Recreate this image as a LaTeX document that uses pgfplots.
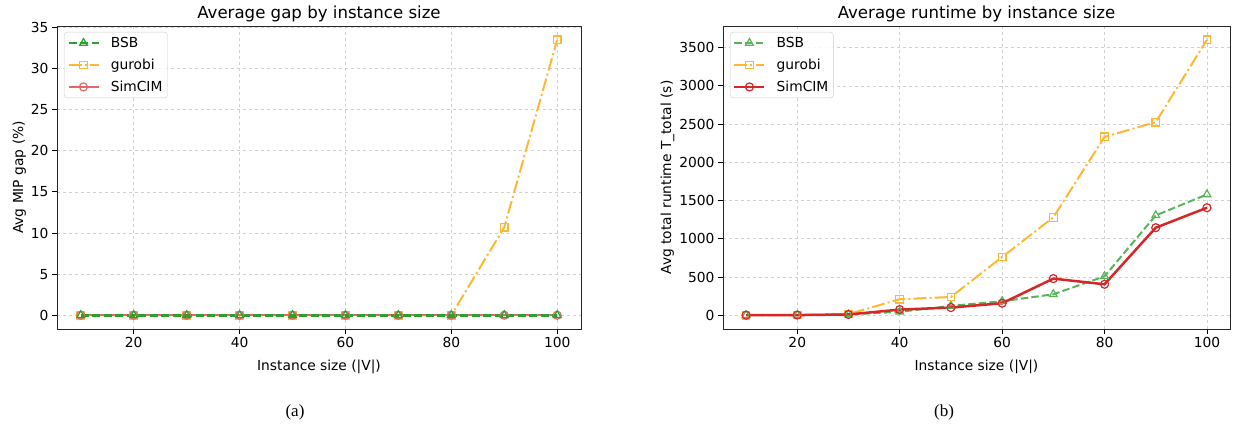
\documentclass[border=0pt]{standalone}
\usepackage{pgfplots}
\pgfplotsset{compat=1.18}
\usepackage{fontspec}
\setmainfont{DejaVu Sans}
\newfontfamily\capfont{Liberation Serif}
\definecolor{cgreenA}{HTML}{2CA02C}
\definecolor{cgreenB}{HTML}{58B458}
\definecolor{corange}{HTML}{FFB733}
\definecolor{credA}{HTML}{E26768}
\definecolor{credB}{HTML}{D62728}
\pgfplotsset{
  common/.style={
    scale only axis,
    width=524pt, height=303pt,
    xmin=5.5, xmax=104.5,
    xtick={20,40,60,80,100},
    grid=major,
    grid style={dashed, line width=0.6pt, black!18},
    axis line style={black!85, line width=0.9pt},
    tick align=outside,
    tick pos=left,
    major tick length=5pt,
    tick style={black, line width=0.9pt},
    /pgf/number format/assume math mode=true,
    /pgf/number format/1000 sep={},
    tick label style={font=\fontsize{13.8}{16}\selectfont},
    label style={font=\fontsize{13.8}{16}\selectfont},
    title style={font=\fontsize{16.6}{19}\selectfont, yshift=-5pt},
    xlabel style={yshift=-5pt},
    legend style={at={(0.0,1.0)}, anchor=north west, xshift=7pt, yshift=-6pt,
      draw=black!20, rounded corners=3pt, fill=white, fill opacity=0.85, text opacity=1,
      font=\fontsize{13.8}{16}\selectfont, row sep=6pt, inner sep=3pt},
    legend cell align=left,
    legend image code/.code={
      \draw[mark repeat=2, mark phase=2] plot coordinates {(0pt,0pt) (15pt,0pt) (30pt,0pt)};
      \path (39pt,0pt);
    },
  },
  bsbA/.style={color=cgreenA, line width=2.6pt, dash pattern=on 8pt off 3.5pt, mark=triangle, mark size=4.5pt, mark options={solid, line width=1.2pt}},
  gurA/.style={color=corange, line width=2pt, dash pattern=on 12.8pt off 3.2pt on 2pt off 3.2pt, mark=square, mark size=3.8pt, mark options={solid, line width=1.2pt}},
  simA/.style={color=credA, line width=2pt, mark=o, mark size=4pt, mark options={solid, line width=1.2pt}},
  bsbB/.style={color=cgreenB, line width=2pt, dash pattern=on 7.4pt off 3.2pt, mark=triangle, mark size=4.5pt, mark options={solid, line width=1.2pt}},
  gurB/.style={color=corange, line width=2pt, dash pattern=on 12.8pt off 3.2pt on 2pt off 3.2pt, mark=square, mark size=3.8pt, mark options={solid, line width=1.2pt}},
  simB/.style={color=credB, line width=2.5pt, mark=o, mark size=4pt, mark options={solid, line width=1.2pt}},
}
\begin{document}
\begin{tikzpicture}[x=1pt,y=1pt]
\path[use as bounding box] (0,0) rectangle (1233,426);
\begin{axis}[common,
  at={(57pt,97pt)}, anchor=south west,
  ymin=-1.675, ymax=35.175,
  ytick={0,5,10,15,20,25,30,35},
  title={Average gap by instance size},
  xlabel={Instance size (|V|)},
  ylabel={Avg MIP gap (\%)},
  ylabel style={yshift=-2pt},
]
\addlegendimage{bsbA}\addlegendentry{BSB}
\addlegendimage{gurA}\addlegendentry{gurobi}
\addlegendimage{simA}\addlegendentry{SimCIM}
\addplot[gurA, forget plot] coordinates {(10,0) (20,0) (30,0) (40,0) (50,0) (60,0) (70,0) (80,0) (90,10.7) (100,33.5)};
\addplot[simA, forget plot] coordinates {(10,0) (20,0) (30,0) (40,0) (50,0) (60,0) (70,0) (80,0) (90,0) (100,0)};
\addplot[bsbA, forget plot] coordinates {(10,0) (20,0) (30,0) (40,0) (50,0) (60,0) (70,0) (80,0) (90,0) (100,0)};
\end{axis}
\begin{axis}[common,
  at={(723pt,97pt)}, anchor=south west,
  width=507pt,
  ymin=-180, ymax=3783,
  ytick={0,500,1000,1500,2000,2500,3000,3500},
  title={Average runtime by instance size},
  xlabel={Instance size (|V|)},
  ylabel={Avg total runtime T\_total (s)},
  ylabel style={yshift=-2pt},
]
\addplot[bsbB] coordinates {(10,0.5) (20,1.5) (30,10) (40,45) (50,122) (60,183) (70,274) (80,509) (90,1306) (100,1580)};
\addlegendentry{BSB}
\addplot[gurB] coordinates {(10,1) (20,3) (30,15) (40,209) (50,239) (60,761) (70,1280) (80,2333) (90,2525) (100,3603)};
\addlegendentry{gurobi}
\addplot[simB] coordinates {(10,0.5) (20,2) (30,10) (40,74) (50,100) (60,157) (70,479) (80,405) (90,1145) (100,1406)};
\addlegendentry{SimCIM}
\end{axis}
\node[font=\capfont\fontsize{17}{20}\selectfont] at (295,14) {(a)};
\node[font=\capfont\fontsize{17}{20}\selectfont] at (944,14) {(b)};
\end{tikzpicture}
\end{document}
